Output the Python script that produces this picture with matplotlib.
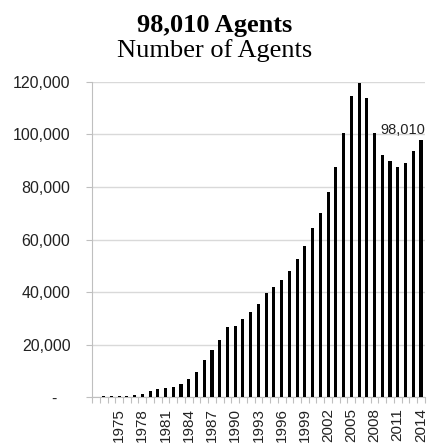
import numpy as np
import matplotlib
matplotlib.use("Agg")
import matplotlib.pyplot as plt

# number of agents per year
years = list(range(1972, 2015))
agents = [0, 500, 500, 500, 500, 800, 1300, 2300, 3000, 3400,
          3800, 4900, 6800, 9700, 14200, 18200, 22000, 26600, 27300, 29700,
          32300, 35400, 39500, 42100, 44600, 48100, 52500, 57600, 64200, 70000,
          78000, 87600, 100600, 114600, 119600, 113700, 100500, 92100, 89800, 87700,
          89100, 93700, 98010]
label_years = list(range(1975, 2015, 3))
y_ticks = [0, 20000, 40000, 60000, 80000, 100000, 120000]
y_labels = ["-   ", "20,000", "40,000", "60,000", "80,000", "100,000", "120,000"]

plt.rcParams['font.family'] = ['Liberation Sans', 'DejaVu Sans']

fig = plt.figure(figsize=(4.30, 4.44), dpi=100)
ax = fig.add_axes([0.214, 0.105, 0.774, 0.711])

ax.bar(years, agents, width=0.4, color='black', zorder=3)

ax.set_xlim(1971.5, 2014.5)
ax.set_ylim(0, 120000)

ax.set_yticks(y_ticks)
ax.set_yticklabels(y_labels)
ax.grid(axis='y', color='#d9d9d9', linewidth=1.0, zorder=0)

ax.set_xticks(label_years)
ax.set_xticklabels([str(y) for y in label_years], rotation=90)
ax.set_xticks([y - 0.5 for y in years] + [2014.5], minor=True)
ax.tick_params(axis='x', which='major', length=0, pad=8, labelsize=11, labelcolor='#222222')
ax.tick_params(axis='x', which='minor', length=4.5, color='#bfbfbf', width=0.8)
ax.tick_params(axis='y', length=4.5, color='#bfbfbf', width=0.8, pad=11, labelsize=11.5,
               labelcolor='#222222')

for s in ['top', 'right']:
    ax.spines[s].set_visible(False)
for s in ['left', 'bottom']:
    ax.spines[s].set_color('#bfbfbf')
    ax.spines[s].set_linewidth(0.8)

ax.annotate(f"{agents[-1]:,}", (years[-1], agents[-1]), xytext=(-13, 4.3),
            textcoords='offset points', ha='center', va='baseline',
            fontsize=10.5, color='#222222')

fig.text(0.5, 1 - 32 / 444, "98,010 Agents", ha='center', va='baseline',
         fontsize=19, fontweight='bold', family='Liberation Serif')
fig.text(0.5, 1 - 57 / 444, "Number of Agents", ha='center', va='baseline',
         fontsize=19, family='Liberation Serif')

fig.savefig("out.png", dpi=100)
